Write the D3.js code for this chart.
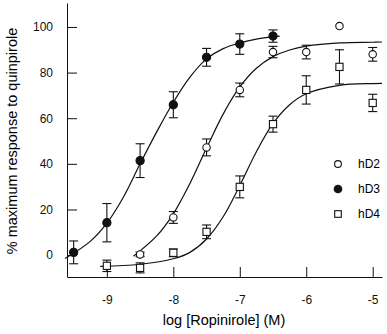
<!DOCTYPE html>
<html>
<head>
<meta charset="utf-8">
<script src="https://cdn.jsdelivr.net/npm/d3@7"></script>
<style>
  body { margin: 0; background: #fff; }
  svg { display: block; font-family: "Liberation Sans", Arial, sans-serif; }
  .axis path, .axis line { stroke: #111; stroke-width: 1; }
  .axis text { font-size: 12px; fill: #111; }
</style>
</head>
<body>
<div id="chart"></div>
<script>
// Mean responses (% of quinpirole max) with SEM, per receptor
const hD2Log = [-8.5, -8, -7.5, -7, -6.5, -6, -5.5, -5];
const hD2Val = [0.3, 16.5, 47.2, 72.4, 89, 89, 100.4, 88];
const hD2Err = [1, 2.6, 3.7, 3, 2.5, 3, 0, 3];

const hD3Log = [-9.5, -9, -8.5, -8, -7.5, -7, -6.5];
const hD3Val = [1.2, 14.2, 41.4, 65.9, 86.7, 92.5, 96];
const hD3Err = [5, 8.4, 7.4, 5.7, 3.9, 4.5, 2.7];

const hD4Log = [-9, -8.5, -8, -7.5, -7, -6.5, -6, -5.5, -5];
const hD4Val = [-4.7, -5.6, 1.0, 10.2, 29.9, 57.4, 72.4, 82.5, 66.7];
const hD4Err = [2.5, 2.2, 1.7, 3, 4.8, 3.5, 6.2, 7.5, 3.8];

// fitted curves, points
const hD2CurveLog = [-8.6, -8.25, -8, -7.75, -7.5, -7.25, -7, -6.75, -6.5, -6.25, -6, -5.5, -5, -4.86];
const hD2CurveVal = [-0.5, 8.4, 18.1, 31.4, 46.9, 61.8, 73.7, 81.9, 87, 89.9, 91.6, 93, 93.3, 93.4];
const hD3CurveLog = [-9.63, -9.25, -9, -8.75, -8.5, -8.25, -8, -7.75, -7.5, -7.25, -7, -6.75, -6.4];
const hD3CurveVal = [-1.5, 6, 14, 25.5, 40, 54, 67, 78, 86, 90.5, 93, 94.7, 96];
const hD4CurveLog = [-9.1, -8.5, -8, -7.75, -7.5, -7.25, -7, -6.75, -6.5, -6.25, -6, -5.5, -5, -4.86];
const hD4CurveVal = [-4.9, -4, -1.6, 1.2, 7.05, 16.8, 30.5, 45.3, 57.7, 65.9, 70.7, 74.4, 75.2, 75.3];

const xTicks = [-9, -8, -7, -6, -5];
const yTicks = [0, 20, 40, 60, 80, 100];
const legendNames = ['hD2', 'hD3', 'hD4'];

const width = 387, height = 334;

const svg = d3.select('#chart')
    .append('svg')
    .attr('width', width)
    .attr('height', height);

const x = d3.scaleLinear().domain([-9.6, -4.86]).range([67, 382]);
const y = d3.scaleLinear().domain([-9.6, 110.5]).range([277, 3]);

// Axes (ticks point inward)
svg.append('g')
    .attr('class', 'axis')
    .attr('transform', `translate(0,${y(-9.6)})`)
    .call(d3.axisBottom(x).tickValues(xTicks).tickSize(-10).tickSizeOuter(0).tickPadding(18)
        .tickFormat(d => d3.format('d')(d).replace('−', '-')));

svg.append('g')
    .attr('class', 'axis')
    .attr('transform', `translate(${x(-9.6)},0)`)
    .call(d3.axisLeft(y).tickValues(yTicks).tickSize(-10).tickSizeOuter(0).tickPadding(14));

// Axis titles
svg.append('text')
    .attr('x', 224)
    .attr('y', 324.5)
    .attr('text-anchor', 'middle')
    .style('font-size', '14.5px')
    .text('log [Ropinirole] (M)');

svg.append('text')
    .attr('transform', 'translate(17,141) rotate(-90)')
    .attr('text-anchor', 'middle')
    .style('font-size', '14.5px')
    .text('% maximum response to quinpirole');

// Curves
const line = d3.line()
    .x(d => x(d[0]))
    .y(d => y(d[1]))
    .curve(d3.curveCatmullRom.alpha(0.5));

[[hD2CurveLog, hD2CurveVal], [hD3CurveLog, hD3CurveVal], [hD4CurveLog, hD4CurveVal]].forEach(([xs, ys]) => {
    svg.append('path')
        .datum(xs.map((v, i) => [v, ys[i]]))
        .attr('d', line)
        .attr('fill', 'none')
        .attr('stroke', '#111')
        .attr('stroke-width', 1.2);
});

const series = [
    { name: 'hD2', logs: hD2Log, vals: hD2Val, errs: hD2Err, shape: 'open' },
    { name: 'hD3', logs: hD3Log, vals: hD3Val, errs: hD3Err, shape: 'filled' },
    { name: 'hD4', logs: hD4Log, vals: hD4Val, errs: hD4Err, shape: 'square' }
];

// draw one marker
function marker(g, shape, cx, cy, size) {
    if (shape === 'square') {
        g.append('rect')
            .attr('x', cx - size)
            .attr('y', cy - size)
            .attr('width', size * 2)
            .attr('height', size * 2)
            .attr('fill', '#fff')
            .attr('stroke', '#111')
            .attr('stroke-width', 1.1);
    } else {
        g.append('circle')
            .attr('cx', cx)
            .attr('cy', cy)
            .attr('r', shape === 'filled' ? size + 0.4 : size)
            .attr('fill', shape === 'filled' ? '#111' : '#fff')
            .attr('stroke', '#111')
            .attr('stroke-width', 1.1);
    }
}

// Error bars
const cap = 4.5;
series.forEach(s => {
    const g = svg.append('g').attr('stroke', '#111').attr('stroke-width', 1.1);
    s.logs.forEach((lv, i) => {
        const e = s.errs[i];
        if (!e) return;
        const cx = x(lv), y1 = y(s.vals[i] + e), y2 = y(s.vals[i] - e);
        g.append('line').attr('x1', cx).attr('x2', cx).attr('y1', y1).attr('y2', y2);
        g.append('line').attr('x1', cx - cap).attr('x2', cx + cap).attr('y1', y1).attr('y2', y1);
        g.append('line').attr('x1', cx - cap).attr('x2', cx + cap).attr('y1', y2).attr('y2', y2);
    });
});

// Points
series.forEach(s => {
    const g = svg.append('g');
    s.logs.forEach((lv, i) => marker(g, s.shape, x(lv), y(s.vals[i]), s.shape === 'square' ? 3.6 : 3.7));
});

// Legend
const legend = svg.append('g');
series.forEach((s, i) => {
    const ly = 164 + i * 25;
    marker(legend, s.shape, 338, ly, s.shape === 'square' ? 3.3 : 3.4);
    legend.append('text')
        .attr('x', 358)
        .attr('y', ly)
        .attr('dy', '0.35em')
        .style('font-size', '12px')
        .text(legendNames[i]);
});
</script>
</body>
</html>
